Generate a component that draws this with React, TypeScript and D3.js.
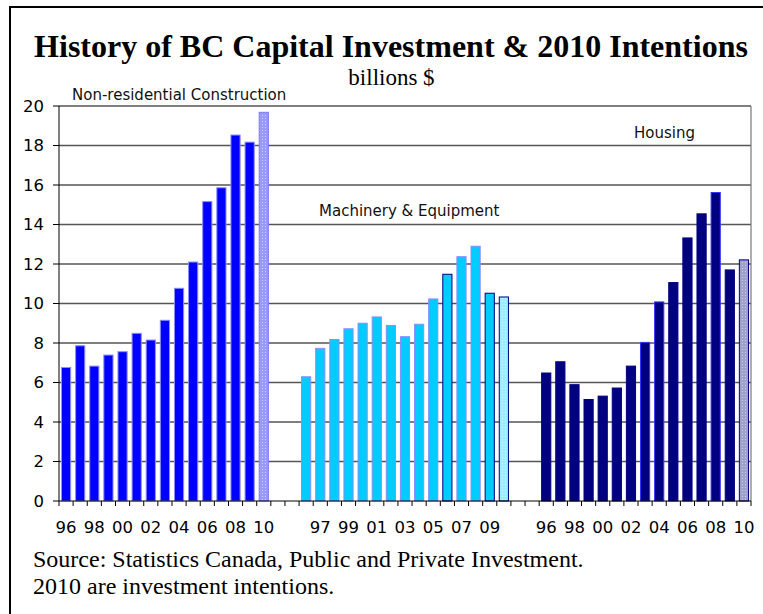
import React from 'react';
import * as d3 from 'd3';

// values in billions $
const years = ['96', '97', '98', '99', '00', '01', '02', '03', '04', '05', '06', '07', '08', '09', '10'];
const nonResidential = [6.76, 7.86, 6.83, 7.39, 7.56, 8.49, 8.15, 9.15, 10.77, 12.1, 15.16, 15.86, 18.53, 18.17, 19.68];
const machinery = [6.29, 7.73, 8.18, 8.72, 9.0, 9.32, 8.89, 8.32, 8.95, 10.23, 11.48, 12.37, 12.9, 10.52, 10.33];
const housing = [6.48, 7.05, 5.89, 5.14, 5.31, 5.72, 6.83, 8.03, 10.08, 11.06, 13.32, 14.54, 15.62, 11.7, 12.21];
const seriesNames = ['Non-residential Construction', 'Machinery & Equipment', 'Housing'];
const yTicks = [0, 2, 4, 6, 8, 10, 12, 14, 16, 18, 20];
const sourceLines = ['Source: Statistics Canada, Public and Private Investment.', '2010 are investment intentions.'];
const gapSlots = 2;

const W = 763;
const H = 614;
const margin = { left: 59, right: 12, top: 106, bottom: 113 };
const plotBottom = H - margin.bottom;

const styles = [
  { fill: '#0000FF', stroke: '#8C8CFF', patBase: '#9999FF', patDot: '#D0D0FF', patStroke: '#7A7AFF' },
  { fill: '#00CCFF', stroke: '#8C8CFF', patBase: '#99EEFF', patDot: '#D8F8FF', patStroke: '#000080' },
  { fill: '#000080', stroke: '#000080', patBase: '#A0A0D0', patDot: '#CCCCE8', patStroke: '#000080' },
];
// bars drawn with a different outline in the original
const outlineOverride: Record<string, string> = {
  '1-10': '#000080', '1-13': '#000080',
  '2-7': '#3333FF', '2-8': '#3333FF', '2-12': '#3333FF',
};

type Bar = { slot: number; group: number; idx: number; value: number };

const allSeries = [nonResidential, machinery, housing];
const slotCount = allSeries.length * years.length + (allSeries.length - 1) * gapSlots;
const bars: Bar[] = [];
const slotLabel: string[] = new Array(slotCount).fill('');
allSeries.forEach((vals, g) => {
  vals.forEach((v, i) => {
    const slot = g * (years.length + gapSlots) + i;
    bars.push({ slot, group: g, idx: i, value: v });
    slotLabel[slot] = years[i];
  });
});

export default function App() {
  const slots = d3.range(slotCount).map(String);
  const x = d3.scaleBand<string>()
    .domain(slots)
    .range([margin.left, W - margin.right])
    .paddingInner(0.35)
    .paddingOuter(0.175);
  const step = x.step();
  const y = d3.scaleLinear().domain([0, 20]).range([plotBottom, margin.top]);
  const slotCenter = (s: number) => (x(String(s)) as number) + x.bandwidth() / 2;

  const sans = 'DejaVu Sans, Verdana, sans-serif';
  const serif = 'Liberation Serif, Times New Roman, serif';

  return (
    <svg width={W} height={H} style={{ position: 'absolute', left: 0, top: 0, background: '#fff' }}>
      <defs>
        {styles.map((s, g) => (
          <pattern key={g} id={`dots${g}`} width={3} height={3} patternUnits="userSpaceOnUse">
            <rect width={3} height={3} fill={s.patBase} />
            <rect x={1} y={1} width={1} height={1} fill={s.patDot} />
          </pattern>
        ))}
      </defs>
      <rect x={0} y={0} width={W} height={H} fill="#fff" />
      {/* outer frame */}
      <rect x={10} y={7} width={W + 20} height={H + 20} fill="none" stroke="#000" strokeWidth={2} />

      <text x={391} y={57} textAnchor="middle" fontFamily={serif} fontWeight="bold" fontSize={32}>
        History of BC Capital Investment &amp; 2010 Intentions
      </text>
      <text x={391.5} y={85} textAnchor="middle" fontFamily={serif} fontSize={23}>billions $</text>

      {/* gridlines */}
      {yTicks.filter(t => t > 0).map(t => (
        <line key={t} x1={margin.left} x2={W - margin.right} y1={y(t)} y2={y(t)} stroke="#555" strokeWidth={1.3} />
      ))}
      <line x1={W - margin.right} x2={W - margin.right} y1={margin.top} y2={plotBottom} stroke="#777" strokeWidth={1.2} />

      {/* bars */}
      {bars.map(b => {
        const s = styles[b.group];
        const last = b.idx === years.length - 1;
        const key = `${b.group}-${b.idx}`;
        return (
          <rect
            key={key}
            x={x(String(b.slot))}
            y={y(b.value)}
            width={x.bandwidth()}
            height={plotBottom - y(b.value)}
            fill={last ? `url(#dots${b.group})` : s.fill}
            stroke={last ? s.patStroke : (outlineOverride[key] || s.stroke)}
            strokeWidth={1}
          />
        );
      })}

      {/* y axis */}
      <line x1={margin.left} x2={margin.left} y1={margin.top} y2={plotBottom} stroke="#000" strokeWidth={1} />
      {yTicks.map(t => (
        <g key={t}>
          <line x1={margin.left - 6} x2={margin.left} y1={y(t)} y2={y(t)} stroke="#000" strokeWidth={1} />
          <text x={44} y={y(t)} dy="0.36em" textAnchor="end" fontFamily={sans} fontSize={16.5}>{t}</text>
        </g>
      ))}

      {/* x axis */}
      <line x1={margin.left} x2={W - margin.right} y1={plotBottom} y2={plotBottom} stroke="#000" strokeWidth={1} />
      {d3.range(slotCount + 1).map(i => (
        <line key={i} x1={margin.left + i * step} x2={margin.left + i * step} y1={plotBottom} y2={plotBottom + 5} stroke="#000" strokeWidth={1} />
      ))}
      {d3.range(0, slotCount, 2).filter(i => slotLabel[i]).map(i => (
        <text key={i} x={slotCenter(i)} y={533} textAnchor="middle" fontFamily={sans} fontSize={16.5}>{slotLabel[i]}</text>
      ))}

      {/* series labels */}
      <text x={72} y={100} fontFamily={sans} fontSize={15} fill="#111">{seriesNames[0]}</text>
      <text x={319} y={216} fontFamily={sans} fontSize={15} fill="#111">{seriesNames[1]}</text>
      <text x={634} y={138} fontFamily={sans} fontSize={15} fill="#111">{seriesNames[2]}</text>

      {/* source note */}
      {sourceLines.map((line, i) => (
        <text key={i} x={33} y={567 + i * 27} fontFamily={serif} fontSize={24}>{line}</text>
      ))}
    </svg>
  );
}
